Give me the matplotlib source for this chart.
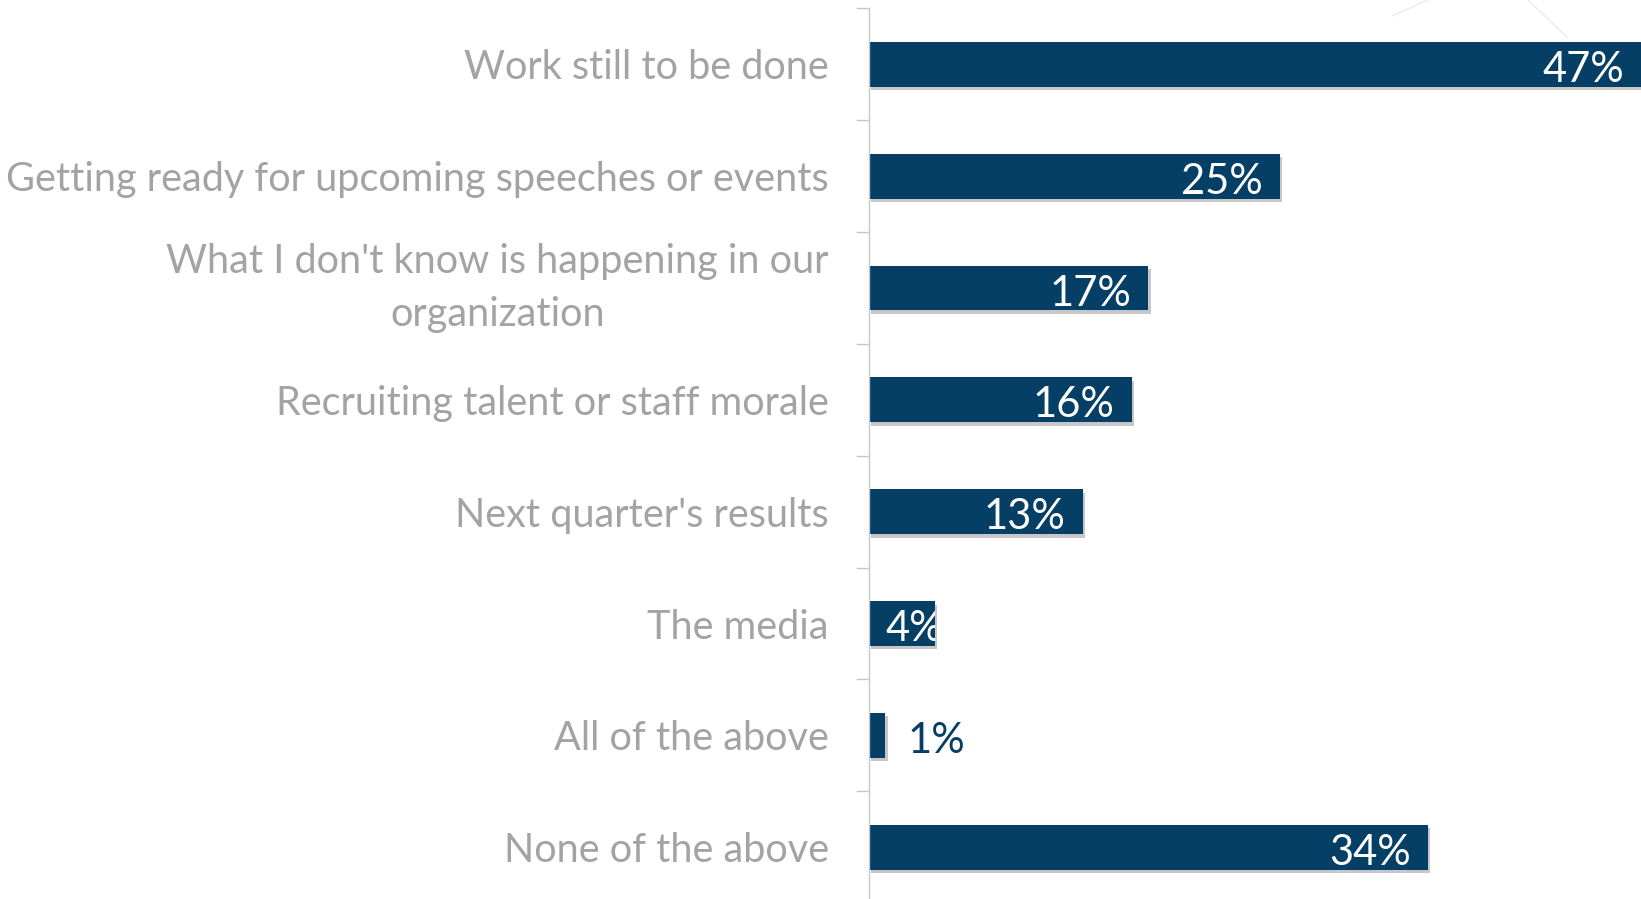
import matplotlib
matplotlib.use("Agg")
import matplotlib.pyplot as plt
import matplotlib.patheffects as pe
from matplotlib.lines import Line2D

categories = [
    "Work still to be done",
    "Getting ready for upcoming speeches or events",
    "What I don't know is happening in our\norganization",
    "Recruiting talent or staff morale",
    "Next quarter's results",
    "The media",
    "All of the above",
    "None of the above",
]
values = [47, 25, 17, 16, 13, 4, 1, 34]
value_labels = [f"{v}%" for v in values]

NAVY = "#063F66"
LABEL_GRAY = "#A3A3A3"
AXIS_GRAY = "#C8C8C8"
FONT = "Lato"
VAL_SIZE = 30

W, H, DPI = 1641, 899, 100
fig = plt.figure(figsize=(W / DPI, H / DPI), dpi=DPI)
fig.patch.set_facecolor("white")

# plot area in pixels
x0, x1 = 869, 1641
y_top, band = 8.4, 111.84
n = len(categories)
y_bot = y_top + n * band
ax = fig.add_axes([x0 / W, 1 - y_bot / H, (x1 - x0) / W, (y_bot - y_top) / H])

px_per_pct = 16.44
ax.set_xlim(0, (x1 - x0) / px_per_pct)
ax.set_ylim(n - 0.5, -0.5)

pos = list(range(n))
bars = ax.barh(pos, values, height=0.40, color=NAVY, zorder=3)
for b in bars:
    b.set_path_effects([
        pe.SimplePatchShadow(offset=(1.5, -2.5), shadow_rgbFace="#000000", alpha=0.22),
        pe.Normal(),
    ])

# value labels
common = dict(textcoords="offset points", va="center_baseline", fontsize=VAL_SIZE,
              family=FONT, zorder=4, annotation_clip=False)
for b, v, txt in zip(bars, values, value_labels):
    yc = b.get_y() + b.get_height() / 2
    if v < 2:
        ax.annotate(txt, xy=(v, yc), xytext=(16, -1.5), ha="left", color=NAVY, **common)
    elif v < 6:
        t = ax.annotate(txt, xy=(0, yc), xytext=(11.5, -1.5), ha="left", color="white", **common)
        t.set_clip_path(b)
    else:
        ax.annotate(txt, xy=(v, yc), xytext=(-12.5, -1.5), ha="right", color="white", **common)

# category axis
ax.set_yticks(pos)
ax.set_yticklabels(categories, family=FONT, fontsize=28.5, color=LABEL_GRAY,
                   multialignment="center", linespacing=1.55)
for lab in ax.get_yticklabels():
    if "\n" in lab.get_text():
        lab.set_va("center")
ax.set_yticks([p - 0.5 for p in range(n + 1)], minor=True)
ax.tick_params(axis="y", which="major", length=0, pad=29)
ax.tick_params(axis="y", which="minor", length=9.5, width=1, color=AXIS_GRAY, direction="out")
ax.tick_params(axis="x", bottom=False, labelbottom=False)
for s in ("top", "right", "bottom"):
    ax.spines[s].set_visible(False)
ax.spines["left"].set_color(AXIS_GRAY)
ax.spines["left"].set_linewidth(1)
ax.spines["left"].set_zorder(5)

# faint outline of a shape peeking in at the top right
for xs, ys in (((1392, 1428), (16, 0)), ((1528, 1567), (0, 37))):
    fig.add_artist(Line2D([x / W for x in xs], [1 - y / H for y in ys],
                          transform=fig.transFigure, color="#EBEBEB", lw=1))

fig.savefig("out.png", dpi=DPI)
